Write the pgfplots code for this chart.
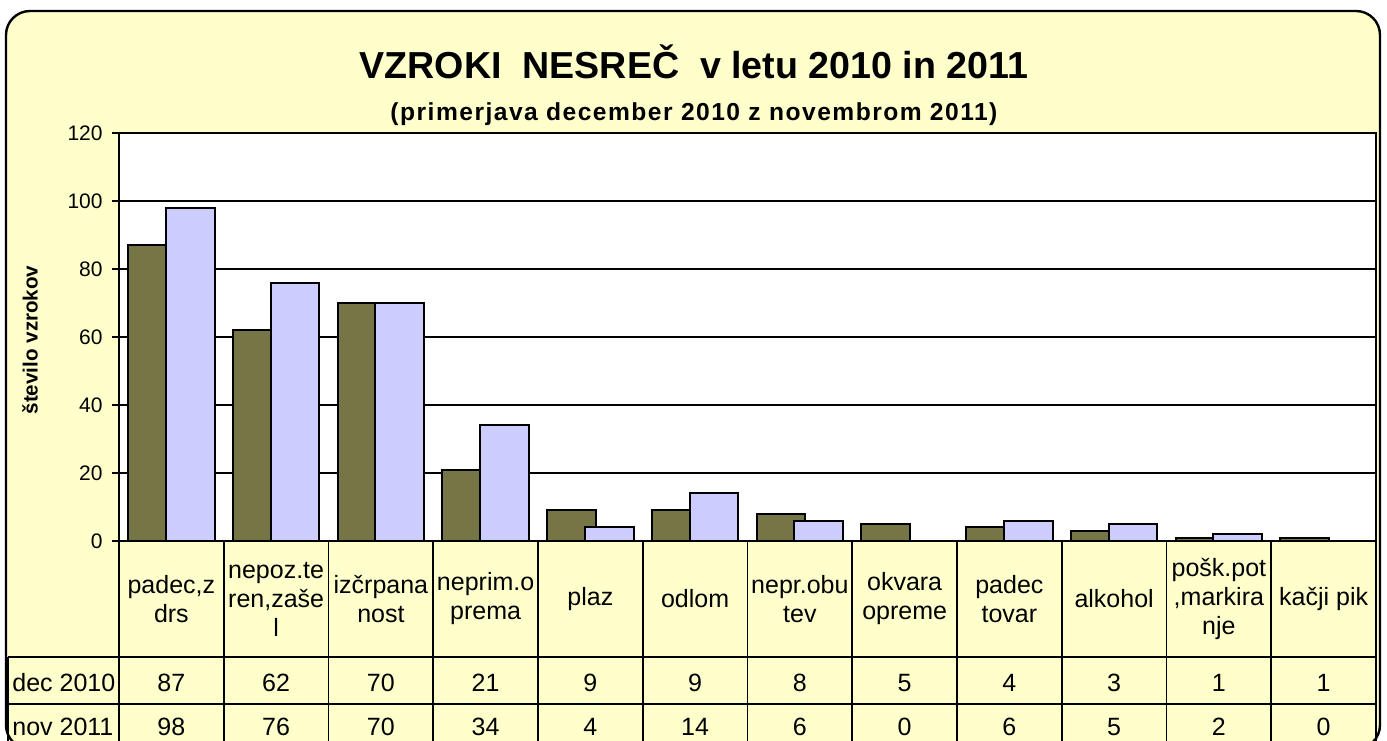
\documentclass[border=0pt]{standalone}
\usepackage{pgfplots}
\pgfplotsset{compat=1.18}
\usepackage{fontspec}
\setmainfont{Liberation Sans}
\definecolor{olivebar}{RGB}{118,117,70}
\definecolor{lavbar}{RGB}{204,204,255}
\definecolor{bgyellow}{RGB}{255,255,204}
\begin{document}
\begin{tikzpicture}
\clip (-59.5pt,-99.5pt) rectangle (634pt,270.5pt);
\fill[white] (-59.5pt,-99.5pt) rectangle (634pt,270.5pt);
\draw[line width=1.2pt, fill=bgyellow, rounded corners=12pt] (-56.5pt,-104pt) rectangle (630.5pt,265pt);
\begin{axis}[
  at={(0pt,0pt)}, anchor=south west,
  scale only axis, width=628.5pt, height=204pt,
  xmin=-0.5, xmax=11.5, ymin=0, ymax=120,
  ytick={0,20,...,120}, xtick=\empty,
  ymajorgrids, grid style={black, line width=0.7pt},
  axis line style={black, line width=1pt},
  axis background/.style={fill=white},
  tick align=outside, ytick pos=left, major tick length=3.5pt,
  tick style={black, line width=0.8pt},
  /pgf/number format/assume math mode=true,
  yticklabel style={font=\fontsize{10.5}{12}\selectfont, inner sep=0pt, anchor=east, xshift=-4.5pt},
  clip=false,
]
\addplot[ybar, bar width=0.466, bar shift=-0.18, fill=olivebar, draw=black, line width=1pt]
  coordinates {(0,87) (1,62) (2,70) (3,21) (4,9) (5,9) (6,8) (7,5) (8,4) (9,3) (10,1) (11,1)};
\addplot[ybar, bar width=0.466, bar shift=0.18, fill=lavbar, draw=black, line width=1pt]
  coordinates {(0,98) (1,76) (2,70) (3,34) (4,4) (5,14) (6,6) (7,0) (8,6) (9,5) (10,2) (11,0)};
\end{axis}
% data table grid
\draw[line width=0.9pt] (-55.5pt,-58pt) -- (628.5pt,-58pt);
\draw[line width=0.9pt] (-55.5pt,-81.5pt) -- (628.5pt,-81.5pt);
\draw[line width=0.9pt] (-55.5pt,-58pt) -- (-55.5pt,-102pt);
\foreach \k in {0,...,12} \draw[line width=0.9pt] ({\k*52.375pt},0pt) -- ({\k*52.375pt},-102pt);
% category labels
\begin{scope}[every node/.style={font=\fontsize{12.5}{14.5}\selectfont, align=center, anchor=center, inner sep=0pt}]
\node at ({0.5*52.375pt},-29pt) {padec,z\\drs};
\node at ({1.5*52.375pt},-29pt) {nepoz.te\\ren,zaše\\l};
\node at ({2.5*52.375pt},-29pt) {izčrpana\\nost};
\node at ({3.5*52.375pt},-29pt) {neprim.o\\prema};
\node at ({4.5*52.375pt},-29pt) {plaz};
\node at ({5.5*52.375pt},-29pt) {odlom};
\node at ({6.5*52.375pt},-29pt) {nepr.obu\\tev};
\node at ({7.5*52.375pt},-29pt) {okvara\\opreme};
\node at ({8.5*52.375pt},-29pt) {padec\\tovar};
\node at ({9.5*52.375pt},-29pt) {alkohol};
\node at ({10.5*52.375pt},-29pt) {pošk.pot\\,markira\\nje};
\node at ({11.5*52.375pt},-29pt) {kačji pik};
\foreach \v [count=\i from 0] in {87,62,70,21,9,9,8,5,4,3,1,1}
  \node[anchor=base] at ({(\i+0.5)*52.375pt},-75pt) {\v};
\foreach \v [count=\i from 0] in {98,76,70,34,4,14,6,0,6,5,2,0}
  \node[anchor=base] at ({(\i+0.5)*52.375pt},-97pt) {\v};
\node[anchor=base west] at (-53.5pt,-75pt) {dec 2010};
\node[anchor=base west] at (-53.5pt,-97pt) {nov 2011};
\end{scope}
% titles
\node[anchor=base, font=\bfseries\fontsize{18.8}{22}\selectfont] at (287.5pt,231pt) {VZROKI\ \ NESREČ\ \ v letu 2010 in 2011};
\node[anchor=base, font=\bfseries\fontsize{12.3}{14}\selectfont] at (287.5pt,210pt) {\addfontfeatures{LetterSpace=6}(primerjava december 2010 z novembrom 2011)};
\node[rotate=90, font=\bfseries\fontsize{10.3}{12}\selectfont] at (-44.5pt,100.5pt) {število vzrokov};
\end{tikzpicture}
\end{document}
